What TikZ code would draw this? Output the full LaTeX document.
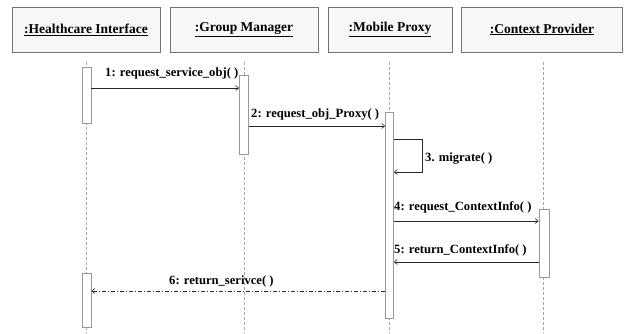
\documentclass[tikz,border=0pt]{standalone}
\usepackage{fontspec}
\setmainfont{Liberation Serif}
\usetikzlibrary{arrows.meta}
\tikzset{
  hdr/.style={draw=black!55, fill=black!3, line width=0.9pt, inner sep=0pt, font=\fontsize{13.5}{15}\selectfont\bfseries},
  act/.style={draw=black!40, fill=white, line width=0.8pt},
  life/.style={draw=black!35, dashed, dash pattern=on 3pt off 2pt, line width=0.6pt},
  msg/.style={draw=black!85, line width=0.6pt, -{Straight Barb[length=3pt,width=5pt]}},
  lbl/.style={font=\fontsize{12.6}{14}\selectfont\bfseries, inner sep=1pt},
}
\begin{document}
\begin{tikzpicture}[x=1pt,y=-1pt]
\useasboundingbox (0,0) rectangle (625,333);
% header boxes
\node[hdr, minimum width=148pt, minimum height=45pt] (h1) at (86,29.5) {\underline{:Healthcare Interface}};
\node[hdr, minimum width=148pt, minimum height=45pt] (h2) at (244,29.5) {\underline{:Group Manager}};
\node[hdr, minimum width=124pt, minimum height=45pt] (h3) at (390,29.5) {\underline{:Mobile Proxy}};
\node[hdr, minimum width=161pt, minimum height=45pt] (h4) at (542,29.5) {\underline{:Context Provider}};
% lifeline ends
\coordinate (l1t) at (86.5,62); \coordinate (l1b) at (86.5,333);
\coordinate (l2t) at (244,62); \coordinate (l2b) at (244,333);
\coordinate (l3t) at (389.5,62); \coordinate (l3b) at (389.5,333);
\coordinate (l4t) at (543.5,62); \coordinate (l4b) at (543.5,333);
\draw[life] (l1t) -- (l1b);
\draw[life] (l2t) -- (l2b);
\draw[life] (l3t) -- (l3b);
\draw[life] (l4t) -- (l4b);
% activations
\node[act, minimum width=9pt, minimum height=56pt, inner sep=0pt] (a1) at (86.5,95) {};
\node[act, minimum width=9pt, minimum height=79pt, inner sep=0pt] (a2) at (244,114.5) {};
\node[act, minimum width=8pt, minimum height=206pt, inner sep=0pt] (a3) at (389.5,215) {};
\node[act, minimum width=10pt, minimum height=68pt, inner sep=0pt] (a4) at (544,243) {};
\node[act, minimum width=9pt, minimum height=54pt, inner sep=0pt] (a5) at (86.5,300) {};
% messages
\draw[msg] (a1.east |- 0,88) -- (a2.west |- 0,88);
\node[lbl, anchor=base west] (m1) at (104,76) {1: request\_service\_obj( )};
\draw[msg] (a2.east |- 0,126) -- (a3.west |- 0,126);
\node[lbl, anchor=base west] (m2) at (250,117) {2: request\_obj\_Proxy( )};
\coordinate (s1) at (422,139);
\coordinate (s2) at (422,172);
\draw[msg] (a3.east |- 0,139) -- (s1) -- (s2) -- (a3.east |- 0,172);
\node[lbl, anchor=base west] (m3) at (424,161) {3. migrate( )};
\draw[msg] (a3.east |- 0,221) -- (a4.west |- 0,221);
\node[lbl, anchor=base west] (m4) at (393,210) {4: request\_ContextInfo( )};
\draw[msg] (a4.west |- 0,262) -- (a3.east |- 0,262);
\node[lbl, anchor=base west] (m5) at (393,253) {5: return\_ContextInfo( )};
\draw[msg, dash pattern=on 4pt off 2pt on 1pt off 2pt] (a3.west |- 0,291) -- (a5.east |- 0,291);
\node[lbl, anchor=base west] (m6) at (168,284) {6: return\_serivce( )};
\end{tikzpicture}
\end{document}
